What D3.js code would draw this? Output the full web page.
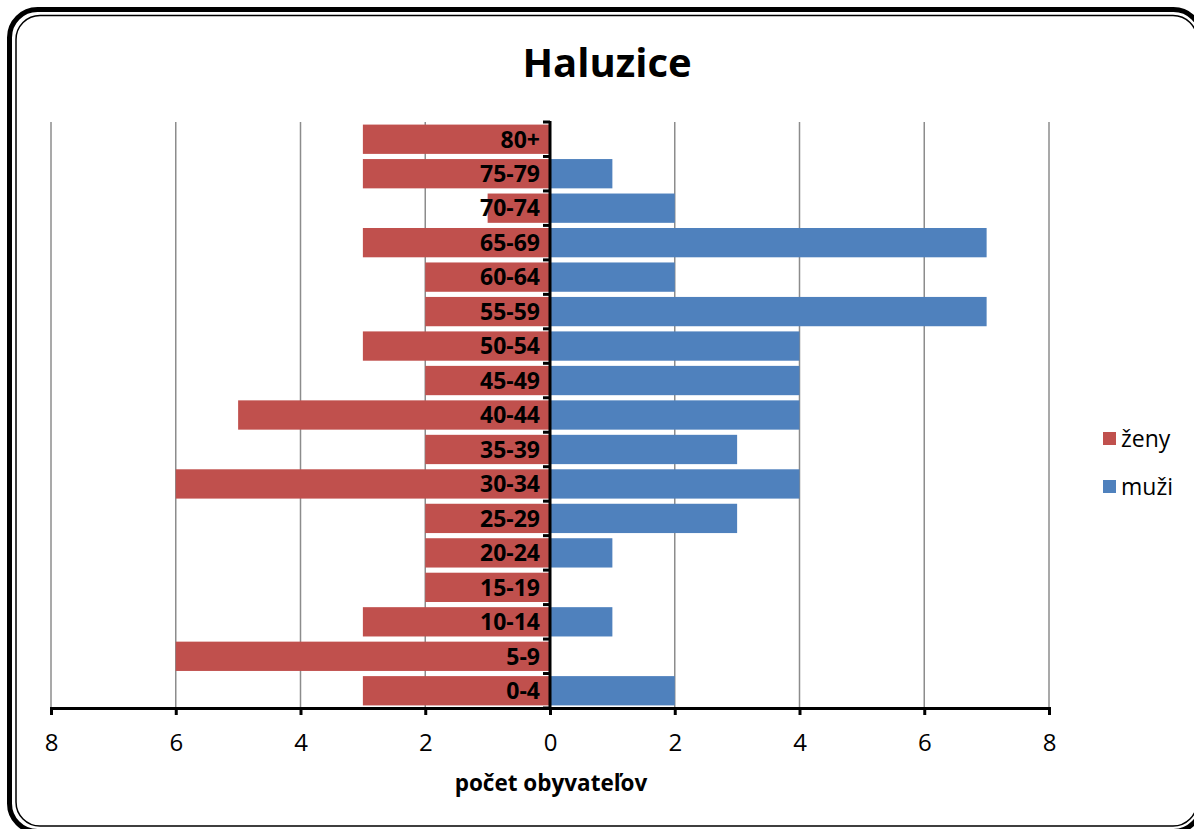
<!DOCTYPE html>
<html>
<head>
<meta charset="utf-8">
<script src="https://cdn.jsdelivr.net/npm/d3@7"></script>
<style>
body { margin: 0; background: #fff; }
svg text { font-family: "Open Sans", "Noto Sans", sans-serif; }
</style>
</head>
<body>
<svg id="chart" width="1194" height="829"></svg>
<script>
var ageGroups = ['0-4', '5-9', '10-14', '15-19', '20-24', '25-29', '30-34', '35-39', '40-44',
	'45-49', '50-54', '55-59', '60-64', '65-69', '70-74', '75-79', '80+'];
var zeny = [3, 6, 3, 2, 2, 2, 6, 2, 5, 2, 3, 2, 2, 3, 1, 3, 3];
var muzi = [2, 0, 1, 0, 1, 3, 4, 3, 4, 4, 4, 7, 2, 7, 2, 1, 0];
var tickValues = [-8, -6, -4, -2, 0, 2, 4, 6, 8];

var svg = d3.select("#chart");

// frame
svg.append("rect").attr("x", 9.5).attr("y", 9.5).attr("width", 1192).attr("height", 822)
	.attr("rx", 28).attr("fill", "none").attr("stroke", "#000").attr("stroke-width", 5);
svg.append("rect").attr("x", 16).attr("y", 15.5).attr("width", 1181).attr("height", 810.5)
	.attr("rx", 24).attr("fill", "none").attr("stroke", "#000").attr("stroke-width", 1.5);

var x = d3.scaleLinear().domain([-8, 8]).range([51, 1049]);
var y = d3.scaleBand().domain(ageGroups.slice().reverse()).range([122, 708]).paddingInner(0.15).paddingOuter(0.075);

// grid
svg.append("g").selectAll("line").data(tickValues.filter(function(d) { return d != 0; }))
	.enter().append("line")
	.attr("x1", function(d) { return x(d); }).attr("x2", function(d) { return x(d); })
	.attr("y1", 122).attr("y2", 708).attr("stroke", "#8c8c8c").attr("stroke-width", 1.5);

// bars
svg.append("g").selectAll("rect").data(ageGroups).enter().append("rect")
	.attr("x", function(d, i) { return x(-zeny[i]); })
	.attr("width", function(d, i) { return x(0) - x(-zeny[i]); })
	.attr("y", function(d) { return y(d); })
	.attr("height", y.bandwidth())
	.attr("fill", "#C0504D");
svg.append("g").selectAll("rect").data(ageGroups).enter().append("rect")
	.attr("x", x(0))
	.attr("width", function(d, i) { return x(muzi[i]) - x(0); })
	.attr("y", function(d) { return y(d); })
	.attr("height", y.bandwidth())
	.attr("fill", "#4F81BD");

// x axis
var xAxis = svg.append("g").attr("transform", "translate(0,708)")
	.call(d3.axisBottom(x).tickValues(tickValues).tickSize(7).tickPadding(19)
		.tickFormat(function(d) { return Math.abs(d); }));
xAxis.select(".domain").attr("stroke", "#000").attr("stroke-width", 3);
xAxis.selectAll(".tick line").attr("stroke", "#000").attr("stroke-width", 3);
xAxis.selectAll("text").attr("font-size", 24).attr("fill", "#000")
	.style("font-family", "'Open Sans', sans-serif");

// y axis at zero
var step = (708 - 122) / ageGroups.length;
svg.append("g").selectAll("line").data(d3.range(ageGroups.length + 1)).enter().append("line")
	.attr("x1", x(0) - 7).attr("x2", x(0))
	.attr("y1", function(d) { return 122 + d * step; })
	.attr("y2", function(d) { return 122 + d * step; })
	.attr("stroke", "#000").attr("stroke-width", 3);
svg.append("line").attr("x1", x(0)).attr("x2", x(0)).attr("y1", 121).attr("y2", 709)
	.attr("stroke", "#000").attr("stroke-width", 3);

// category labels
svg.append("g").selectAll("text").data(ageGroups).enter().append("text")
	.attr("x", x(0) - 10)
	.attr("y", function(d) { return y(d) + y.bandwidth() / 2; })
	.attr("dy", "0.36em")
	.attr("text-anchor", "end")
	.attr("font-size", 23).attr("font-weight", "bold")
	.text(function(d) { return d; });

// title
svg.append("text").attr("x", 607).attr("y", 77).attr("text-anchor", "middle")
	.attr("font-size", 40).attr("font-weight", "bold").text("Haluzice");

// axis title
svg.append("text").attr("x", 551).attr("y", 791).attr("text-anchor", "middle")
	.attr("font-size", 22.5).attr("font-weight", "bold").text("počet obyvateľov");

// legend
var legend = [["ženy", "#C0504D"], ["muži", "#4F81BD"]];
legend.forEach(function(l, i) {
	svg.append("rect").attr("x", 1103).attr("y", 432 + i * 48).attr("width", 13).attr("height", 13).attr("fill", l[1]);
	svg.append("text").attr("x", 1121).attr("y", 447 + i * 48).attr("font-size", 23).text(l[0]);
});
</script>
</body>
</html>
